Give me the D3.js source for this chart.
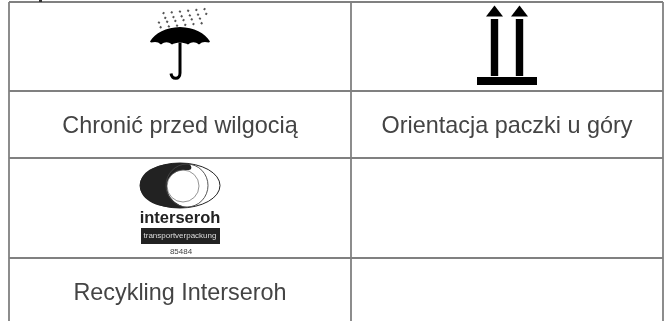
<!DOCTYPE html>
<html>
<head>
<meta charset="utf-8">
<script src="https://cdn.jsdelivr.net/npm/d3@7"></script>
<style>
  html, body { margin: 0; padding: 0; background: #fff; }
  svg { display: block; filter: blur(0.5px); }
</style>
</head>
<body>
<div id="my_dataviz"></div>
<script>
var columns = ["left", "right"];
var rows = ["icons1", "labels1", "icons2", "labels2"];
var labels1 = ["Chronić przed wilgocią", "Orientacja paczki u góry"];
var labels2 = ["Recykling Interseroh", ""];
var logoName = ["interseroh"];
var logoBand = ["transportverpackung"];
var logoCode = ["85484"];

var width = 667, height = 321;

// column edges and row edges of the table
var x = d3.scaleOrdinal().domain(columns.concat("end")).range([9, 351, 663]);
var y = d3.scaleOrdinal().domain(rows.concat("end")).range([2, 91, 158, 258, 340]);
var center = function(c) { return c == "left" ? (x("left") + x("right")) / 2 : (x("right") + x("end")) / 2; };

var svg = d3.select("#my_dataviz")
    .append("svg")
      .attr("width", width)
      .attr("height", height);

// grid
svg.selectAll("line.v")
    .data(columns.concat("end"))
    .enter().append("line")
      .attr("class", "v")
      .attr("x1", function(d) { return x(d); })
      .attr("x2", function(d) { return x(d); })
      .attr("y1", y("icons1"))
      .attr("y2", height)
      .attr("stroke", "#808080")
      .attr("stroke-width", 1.8);

svg.selectAll("line.h")
    .data(rows)
    .enter().append("line")
      .attr("class", "h")
      .attr("x1", x("left"))
      .attr("x2", x("end"))
      .attr("y1", function(d) { return y(d); })
      .attr("y2", function(d) { return y(d); })
      .attr("stroke", "#808080")
      .attr("stroke-width", 1.8);

// cut off text descender above the table
svg.append("rect")
    .attr("x", 39).attr("y", 0).attr("width", 3).attr("height", 2)
    .attr("fill", "#333");

// cell labels
function addLabels(list, baseline) {
  svg.selectAll("text.r" + baseline)
      .data(list)
      .enter().append("text")
        .attr("class", "r" + baseline)
        .attr("x", function(d, i) { return center(columns[i]); })
        .attr("y", baseline)
        .attr("text-anchor", "middle")
        .attr("font-family", "'Liberation Sans', Arial, sans-serif")
        .attr("font-size", 23.4)
        .attr("fill", "#444")
        .text(function(d) { return d; });
}
addLabels(labels1, 133);
addLabels(labels2, 300);

// umbrella
var umbrella = svg.append("g").attr("transform", "translate(" + center("left") + ",0)");
umbrella.append("path")
    .attr("fill", "#000")
    .attr("d", "M-30,41.5 C-25,33 -14,27.5 0,27 C14,27.5 25,33 30,41.5 L29,42.5 C25,41.5 22,41.5 19,44.5 C15,41.5 12,41.5 8,44.5 C5,42 -5,42 -8,44.5 C-12,41.5 -15,41.5 -19,44.5 C-22,41.5 -25,41.5 -29,42.5 Z");
umbrella.append("path")
    .attr("fill", "none")
    .attr("stroke", "#000")
    .attr("stroke-width", 3)
    .attr("d", "M0,43 L0,73 C0,80 -8,80 -9,73.5");

// rain, staggered rows, drifting to the left as it falls
d3.range(4).forEach(function(r) {
  d3.range(6).forEach(function(k) {
    var px = -17 + r * -2.3 + (r % 2) * 4 + k * 8.2;
    var py = 13 + r * 4.7 + k * -0.8;
    umbrella.append("line")
        .attr("x1", px).attr("y1", py + 1)
        .attr("x2", px + 1.1).attr("y2", py - 0.7)
        .attr("stroke", "#555")
        .attr("stroke-width", 2);
  });
});

// up arrows
var arrows = svg.append("g").attr("transform", "translate(" + center("right") + ",0)");
[-12.5, 12.5].forEach(function(dx) {
  arrows.append("rect")
      .attr("x", dx - 3.7).attr("y", 19).attr("width", 7.4).attr("height", 57)
      .attr("fill", "#000");
  arrows.append("path")
      .attr("d", "M" + dx + ",5.5 L" + (dx + 8.5) + ",16.5 L" + (dx - 8.5) + ",16.5 Z")
      .attr("fill", "#000");
});
arrows.append("rect")
    .attr("x", -30).attr("y", 77).attr("width", 60).attr("height", 8)
    .attr("fill", "#000");

// interseroh logo
var logo = svg.append("g").attr("transform", "translate(" + center("left") + ",0)");
logo.append("ellipse")
    .attr("cx", 0).attr("cy", 185.5).attr("rx", 40).attr("ry", 22.5)
    .attr("fill", "#fff").attr("stroke", "#222").attr("stroke-width", 1);
logo.append("path")
    .attr("fill", "#222")
    .attr("d", "M8,163.2 C-14,161.5 -40,167 -40,185.5 C-40,204 -14,209.5 6,207.7 C-2,205 -13,199 -13,186 C-13,175 -3,169 8,170 C13,170.5 12,165 8,163.2 Z");
logo.append("ellipse")
    .attr("cx", 3).attr("cy", 186).attr("rx", 16).attr("ry", 16)
    .attr("fill", "none").attr("stroke", "#666").attr("stroke-width", 0.7);
logo.append("ellipse")
    .attr("cx", 7).attr("cy", 185.5).attr("rx", 21).attr("ry", 21.5)
    .attr("fill", "none").attr("stroke", "#444").attr("stroke-width", 0.9);

logo.selectAll("text.name")
    .data(logoName)
    .enter().append("text")
      .attr("class", "name")
      .attr("x", 0).attr("y", 223)
      .attr("text-anchor", "middle")
      .attr("font-family", "'Liberation Sans', Arial, sans-serif")
      .attr("font-weight", "bold")
      .attr("font-size", 16.5)
      .attr("fill", "#222")
      .text(function(d) { return d; });

logo.append("rect")
    .attr("x", -39).attr("y", 228).attr("width", 79).attr("height", 16)
    .attr("fill", "#222");

logo.selectAll("text.band")
    .data(logoBand)
    .enter().append("text")
      .attr("class", "band")
      .attr("x", 0).attr("y", 238)
      .attr("text-anchor", "middle")
      .attr("font-family", "'Liberation Sans', Arial, sans-serif")
      .attr("font-size", 8)
      .attr("fill", "#ddd")
      .text(function(d) { return d; });

logo.selectAll("text.code")
    .data(logoCode)
    .enter().append("text")
      .attr("class", "code")
      .attr("x", 1).attr("y", 254)
      .attr("text-anchor", "middle")
      .attr("font-family", "'Liberation Sans', Arial, sans-serif")
      .attr("font-size", 8)
      .attr("fill", "#444")
      .text(function(d) { return d; });
</script>
</body>
</html>
